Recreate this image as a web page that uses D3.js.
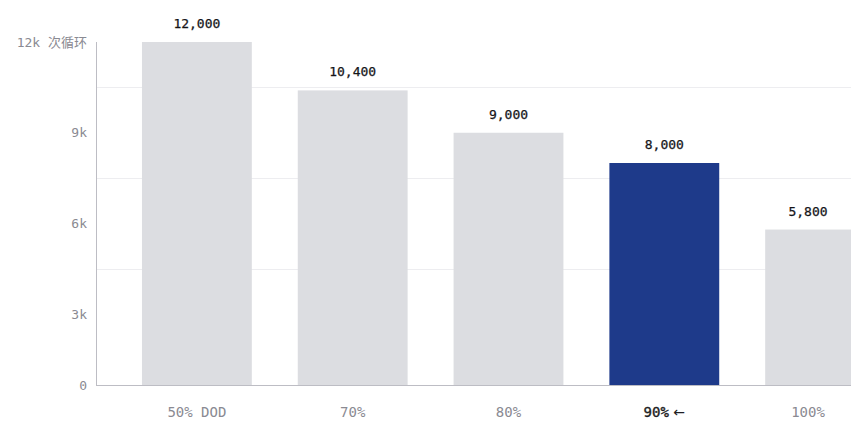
<!DOCTYPE html>
<html>
<head>
<meta charset="utf-8">
<script src="https://cdn.jsdelivr.net/npm/d3@7"></script>
<style>
  body { margin: 0; background: #fff; }
  svg { display: block; }
</style>
</head>
<body>
<div id="chart"></div>
<script>
// chart data
const categories = ["50% DOD", "70%", "80%", "90%", "100%"];
const cycles = [12000, 10400, 9000, 8000, 5800];
const highlight = "90%";
const marker = "\u00a0←";
const yTicks = [3000, 6000, 9000, 12000];
const yTickLabels = ["3k", "6k", "9k", "12k 次循环"];

const WIDTH = 851;
const HEIGHT = 422;
const MARGIN = { left: 96, top: 42, bottom: 385 };
const FONT = "'DejaVu Sans Mono', 'Noto Sans CJK SC', monospace";

const svg = d3.select("#chart")
  .append("svg")
  .attr("width", WIDTH)
  .attr("height", HEIGHT);

// band scale runs past the right edge, the last bar gets cut like in the original
let x = d3.scaleBand()
  .domain(categories)
  .range([MARGIN.left, 921])
  .paddingInner(0.295)
  .paddingOuter(0.295);

let y = d3.scaleLinear()
  .domain([0, 12000])
  .range([405, MARGIN.top]);

// keeps labels of the cut bar inside the picture
function labelX(d) {
  return Math.min(x(d) + x.bandwidth() / 2, WIDTH - 43);
}

// gridlines (sit half a step above each tick)
svg.append("g")
  .selectAll("line")
  .data(yTicks.slice(0, 3))
  .enter()
  .append("line")
  .attr("x1", MARGIN.left)
  .attr("x2", WIDTH)
  .attr("y1", d => Math.round(y(d + 1500)) + 0.5)
  .attr("y2", d => Math.round(y(d + 1500)) + 0.5)
  .attr("stroke", "#ededf0")
  .attr("stroke-width", 1);

// bars
svg.append("g")
  .selectAll("rect")
  .data(categories)
  .enter()
  .append("rect")
  .attr("x", d => x(d))
  .attr("y", (d, i) => y(cycles[i]))
  .attr("width", x.bandwidth())
  .attr("height", (d, i) => MARGIN.bottom - y(cycles[i]))
  .attr("fill", d => d === highlight ? "#1e3a8a" : "#dcdde1");

// value labels
svg.append("g")
  .selectAll("text")
  .data(categories)
  .enter()
  .append("text")
  .attr("x", labelX)
  .attr("y", (d, i) => y(cycles[i]) - 14)
  .attr("text-anchor", "middle")
  .attr("font-family", FONT)
  .attr("font-size", 13)
  .attr("fill", "#141418")
  .attr("stroke", "#141418")
  .attr("stroke-width", 0.25)
  .text((d, i) => d3.format(",")(cycles[i]));

// axes lines
svg.append("line")
  .attr("x1", MARGIN.left + 0.5).attr("x2", MARGIN.left + 0.5)
  .attr("y1", MARGIN.top).attr("y2", MARGIN.bottom)
  .attr("stroke", "#bdbdc4");
svg.append("line")
  .attr("x1", MARGIN.left).attr("x2", WIDTH)
  .attr("y1", MARGIN.bottom + 0.5).attr("y2", MARGIN.bottom + 0.5)
  .attr("stroke", "#bdbdc4");

// y labels
const yLab = svg.append("g")
  .attr("font-family", FONT)
  .attr("font-size", 13)
  .attr("fill", "#8a8a92")
  .attr("text-anchor", "end");

yLab.selectAll("text")
  .data(yTicks)
  .enter()
  .append("text")
  .attr("x", 87)
  .attr("y", d => y(d))
  .attr("dy", "0.35em")
  .text((d, i) => yTickLabels[i]);

yLab.append("text")
  .attr("x", 87)
  .attr("y", MARGIN.bottom)
  .attr("dy", "0.35em")
  .text("0");

// x labels
let xLab = svg.append("g")
  .selectAll("text")
  .data(categories)
  .enter()
  .append("text")
  .attr("x", labelX)
  .attr("y", 412)
  .attr("dy", "0.35em")
  .attr("text-anchor", "middle")
  .attr("font-family", FONT)
  .attr("font-size", 14)
  .attr("fill", d => d === highlight ? "#1f1f24" : "#8a8a92")
  .attr("stroke", d => d === highlight ? "#1f1f24" : "none")
  .attr("stroke-width", 0.4);

xLab.append("tspan").text(d => d);
xLab.filter(d => d === highlight)
  .append("tspan")
  .attr("font-family", "'DejaVu Sans', sans-serif")
  .attr("stroke", "none")
  .text(marker);
</script>
</body>
</html>
